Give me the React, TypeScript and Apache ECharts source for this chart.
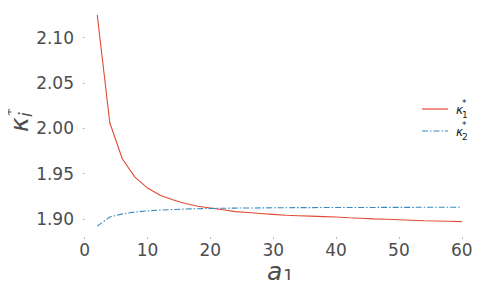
import React, { useEffect, useRef } from "react";
import * as echarts from "echarts";

const aValues = [2, 4, 6, 8, 10, 12, 14, 16, 18, 20, 22, 24, 26, 28, 30, 32, 34, 36, 38, 40, 42, 44, 46, 48, 50, 52, 54, 56, 58, 60];
const kappa1 = [2.125, 2.006, 1.966, 1.946, 1.934, 1.926, 1.921, 1.917, 1.914, 1.912, 1.910, 1.908, 1.907, 1.906, 1.905, 1.904, 1.9035, 1.903, 1.9025, 1.902, 1.9013, 1.9007, 1.900, 1.8995, 1.899, 1.8985, 1.898, 1.8977, 1.8974, 1.897];
const kappa2 = [1.892, 1.902, 1.9055, 1.9075, 1.9088, 1.9097, 1.9103, 1.9108, 1.9112, 1.9115, 1.9117, 1.9119, 1.912, 1.9121, 1.9122, 1.9123, 1.9124, 1.9124, 1.9125, 1.9125, 1.9126, 1.9126, 1.9126, 1.9127, 1.9127, 1.9127, 1.9128, 1.9128, 1.9128, 1.9128];
const xTicks = [0, 10, 20, 30, 40, 50, 60];
const yTicks = [1.9, 1.95, 2.0, 2.05, 2.1];
const legendSubs = ["1", "2"];

const FONT = "DejaVu Sans";
const TXT = "#4d4d4d";
const RED = "#E24A33";
const BLUE = "#348ABD";
const DASHDOT = [6, 2, 1.5, 2];

export default function App() {
  const ref = useRef<HTMLDivElement>(null);
  useEffect(() => {
    if (!ref.current) return;
    const chart = echarts.init(ref.current, null, { renderer: "svg" });
    const mk = (ys: number[]) => aValues.map((a, i) => [a, ys[i]]);
    const colors = [RED, BLUE];
    const legendGraphics: any[] = [];
    legendSubs.forEach((s, i) => {
      const cy = 109 + i * 22;
      legendGraphics.push(
        { type: "line", shape: { x1: 422, y1: cy, x2: 448, y2: cy }, style: { stroke: colors[i], lineWidth: 1.2, lineDash: i === 1 ? DASHDOT : null } },
        { type: "text", x: 456, y: cy + 0.5, style: { text: "κ", fontFamily: FONT, fontSize: 12, fontStyle: "italic", fill: "#222", align: "left", verticalAlign: "middle" } },
        { type: "text", x: 462, y: cy - 6, style: { text: "*", fontFamily: FONT, fontSize: 9, fill: "#222", align: "left", verticalAlign: "middle" } },
        { type: "text", x: 462, y: cy + 5.5, style: { text: s, fontFamily: FONT, fontSize: 9, fill: "#222", align: "left", verticalAlign: "middle" } }
      );
    });
    chart.setOption({
      animation: false,
      backgroundColor: "#ffffff",
      grid: { left: 79, right: 5, top: 4, bottom: 51 },
      xAxis: {
        type: "value",
        min: -0.9,
        max: 62.9,
        axisLine: { show: false },
        splitLine: { show: false },
        axisTick: { show: true, length: 2, customValues: xTicks, lineStyle: { color: "#bbbbbb" } },
        axisLabel: {
          customValues: xTicks,
          margin: 4,
          color: TXT,
          fontFamily: FONT,
          fontSize: 17,
          formatter: (v: number) => String(Math.round(v)),
        },
      },
      yAxis: {
        type: "value",
        min: 1.88,
        max: 2.137,
        axisLine: { show: false },
        splitLine: { show: false },
        axisTick: { show: true, length: 2, customValues: yTicks, lineStyle: { color: "#bbbbbb" } },
        axisLabel: {
          customValues: yTicks,
          margin: 5,
          color: TXT,
          fontFamily: FONT,
          fontSize: 17,
          formatter: (v: number) => v.toFixed(2),
        },
      },
      series: [
        {
          name: "κ*1",
          type: "line",
          data: mk(kappa1),
          showSymbol: false,
          symbol: "none",
          lineStyle: { color: RED, width: 1.1 },
          itemStyle: { color: RED },
        },
        {
          name: "κ*2",
          type: "line",
          data: mk(kappa2),
          showSymbol: false,
          symbol: "none",
          lineStyle: { color: BLUE, width: 1.1, type: DASHDOT },
          itemStyle: { color: BLUE },
        },
      ],
      graphic: [
        {
          type: "group",
          x: 27,
          y: 132,
          rotation: Math.PI / 2,
          children: [
            { type: "text", x: 0, y: -8, style: { text: "κ", fontFamily: FONT, fontSize: 25, fontStyle: "italic", fill: TXT, align: "left", verticalAlign: "middle" } },
            { type: "text", x: 16, y: -17, style: { text: "*", fontFamily: FONT, fontSize: 16, fill: TXT, align: "left", verticalAlign: "middle" } },
            { type: "text", x: 15, y: -1.5, style: { text: "i", fontFamily: FONT, fontSize: 17, fontStyle: "italic", fill: TXT, align: "left", verticalAlign: "middle" } },
          ],
        },
        { type: "text", x: 267, y: 271, style: { text: "a", fontFamily: FONT, fontSize: 25, lineHeight: 16, fontStyle: "italic", fill: TXT, align: "left", verticalAlign: "middle" } },
        { type: "text", x: 283, y: 276, style: { text: "1", fontFamily: FONT, fontSize: 17, lineHeight: 14, fill: TXT, align: "left", verticalAlign: "middle" } },
        ...legendGraphics,
      ],
    });
    return () => chart.dispose();
  }, []);
  return <div ref={ref} style={{ width: 485, height: 288, margin: -8 }} />;
}
